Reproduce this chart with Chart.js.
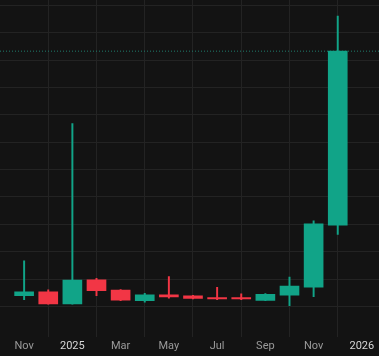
<!DOCTYPE html>
<html>
<head>
<meta charset="utf-8">
<script src="https://cdn.jsdelivr.net/npm/chart.js@4/dist/chart.umd.min.js"></script>
<style>
  html, body { margin: 0; padding: 0; background: #131313; }
  #wrap { width: 379px; height: 356px; position: relative; }
</style>
</head>
<body>
<div id="wrap"><canvas id="c"></canvas></div>
<script>
// Monthly candles, Nov 2024 .. Dec 2025
const months = ['2024-11','2024-12','2025-01','2025-02','2025-03','2025-04','2025-05','2025-06','2025-07','2025-08','2025-09','2025-10','2025-11','2025-12'];
const openV  = [1.39, 1.53, 1.09, 1.97, 1.60, 1.21, 1.42, 1.39, 1.32, 1.32, 1.22, 1.41, 1.70, 3.97];
const highV  = [2.67, 1.61, 7.68, 2.03, 1.62, 1.48, 2.09, 1.41, 1.70, 1.46, 1.47, 2.07, 4.13, 11.61];
const lowV   = [1.25, 1.08, 1.08, 1.39, 1.21, 1.16, 1.30, 1.27, 1.25, 1.25, 1.21, 1.03, 1.36, 3.63];
const closeV = [1.53, 1.09, 1.96, 1.58, 1.23, 1.42, 1.35, 1.29, 1.27, 1.27, 1.44, 1.74, 4.02, 10.33];
const tickPos    = [0, 2, 4, 6, 8, 10, 12, 14];
const tickLabels = ['Nov', '2025', 'Mar', 'May', 'Jul', 'Sep', 'Nov', '2026'];
const gridValues = [1,2,3,4,5,6,7,8,9,10,11,12];

const UP = '#11a488', DOWN = '#f23645';
const colors = months.map((m, i) => closeV[i] >= openV[i] ? UP : DOWN);
const lastClose = closeV[closeV.length - 1];
const X_MIN = -1, X_MAX = 14.71;

new Chart(document.getElementById('c'), {
  type: 'bar',
  data: {
    datasets: [
      {
        type: 'line',
        data: [{x: X_MIN, y: lastClose}, {x: X_MAX, y: lastClose}],
        borderColor: '#1f7d6c',
        borderWidth: 1,
        borderDash: [1, 2],
        pointRadius: 0,
        order: 3
      },
      {
        data: months.map((m, i) => ({x: i, y: [lowV[i], highV[i]]})),
        backgroundColor: colors,
        borderWidth: 0,
        barThickness: 1.3,
        grouped: false,
        order: 2
      },
      {
        data: months.map((m, i) => ({x: i, y: [openV[i], closeV[i]]})),
        backgroundColor: colors,
        borderWidth: 0,
        barThickness: 19,
        minBarLength: 1.2,
        grouped: false,
        order: 1
      }
    ]
  },
  options: {
    responsive: true,
    maintainAspectRatio: false,
    animation: false,
    layout: { padding: { left: 0, right: 0, top: 0, bottom: 0 } },
    plugins: { legend: { display: false }, tooltip: { enabled: false } },
    scales: {
      x: {
        type: 'linear',
        min: X_MIN,
        max: X_MAX,
        offset: false,
        afterBuildTicks: axis => { axis.ticks = tickPos.map(v => ({value: v})); },
        ticks: {
          autoSkip: false,
          maxRotation: 0,
          padding: 3,
          font: { family: 'Roboto', size: 11 },
          color: ctx => (ctx.index === 1 || ctx.index === 7) ? '#d6d6d6' : '#9a9a9a',
          callback: (v, i) => tickLabels[i]
        },
        grid: { color: '#232323', drawTicks: false },
        border: { display: false }
      },
      y: {
        min: -0.11,
        max: 12.2,
        afterBuildTicks: axis => { axis.ticks = gridValues.map(v => ({value: v})); },
        afterFit: axis => { axis.width = 0; },
        ticks: { display: false },
        grid: { color: '#232323', drawTicks: false },
        border: { display: false }
      }
    }
  }
});
</script>
</body>
</html>
